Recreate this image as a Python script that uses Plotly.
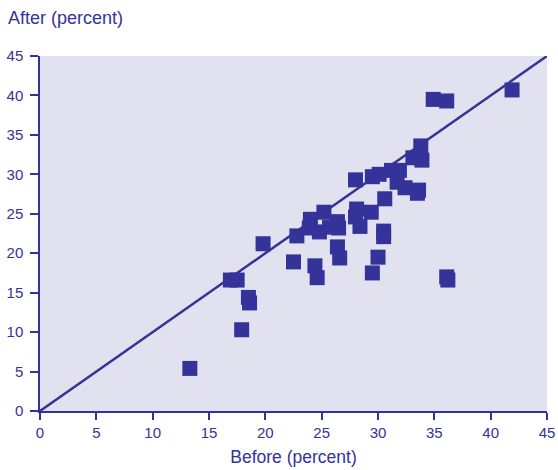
import plotly.graph_objects as go

before = [13.3, 17.9, 18.5, 18.6, 16.9, 17.5, 19.8, 22.5, 22.8, 24.4, 24.6, 24.0, 23.9,
          25.2, 24.8, 26.4, 26.5, 25.7, 26.4, 26.6, 28.0, 28.1, 28.0, 28.4, 29.4, 29.5,
          30.1, 30.6, 30.5, 30.5, 30.0, 29.5, 31.2, 31.9, 31.7, 32.4, 33.6, 33.5, 33.1,
          33.9, 33.8, 34.9, 36.1, 41.9, 36.1, 36.2]
after = [5.4, 10.3, 14.4, 13.7, 16.6, 16.6, 21.2, 18.9, 22.2, 18.4, 16.9, 24.3, 23.2,
         25.2, 22.7, 24.0, 23.2, 23.3, 20.8, 19.4, 29.3, 25.6, 24.6, 23.4, 25.2, 29.7,
         30.0, 26.9, 22.8, 22.1, 19.5, 17.5, 30.5, 30.5, 29.0, 28.3, 28.0, 27.6, 32.1,
         31.8, 33.6, 39.5, 39.3, 40.7, 17.0, 16.6]
diag = [0, 45]
ticks = [0, 5, 10, 15, 20, 25, 30, 35, 40, 45]

blue = "#333399"
font_family = "Liberation Sans, Arial"
fig = go.Figure()
fig.add_trace(go.Scatter(x=diag, y=diag, mode="lines",
                         line=dict(color=blue, width=2.5), hoverinfo="skip"))
fig.add_trace(go.Scatter(x=before, y=after, mode="markers",
                         marker=dict(symbol="square", size=15, color=blue,
                                     line=dict(width=0))))

axis_common = dict(range=[0, 45], tickvals=ticks, showgrid=False, zeroline=False,
                   showline=True, linecolor=blue, linewidth=1.5, automargin=False,
                   ticks="outside", tickcolor=blue, tickwidth=1.5,
                   tickfont=dict(color=blue, size=15, family=font_family))
fig.update_xaxes(**axis_common, ticklen=7,
                 title=dict(text="Before (percent)", standoff=11,
                            font=dict(color=blue, size=17.5, family=font_family)))
fig.update_yaxes(**axis_common, ticklen=8, ticklabelstandoff=4)

fig.add_annotation(text="After (percent)", xref="paper", yref="paper",
                   x=-0.067, y=1.107, xanchor="left", yanchor="middle", showarrow=False,
                   font=dict(color=blue, size=18, family=font_family))

fig.update_layout(width=558, height=470, showlegend=False,
                  plot_bgcolor="#E1E1EF", paper_bgcolor="white",
                  margin=dict(l=40, r=11, t=56, b=59))
fig.write_html("out.html", config={"displayModeBar": False},
               post_script="document.body.style.margin='0';document.body.style.overflow='hidden';")
